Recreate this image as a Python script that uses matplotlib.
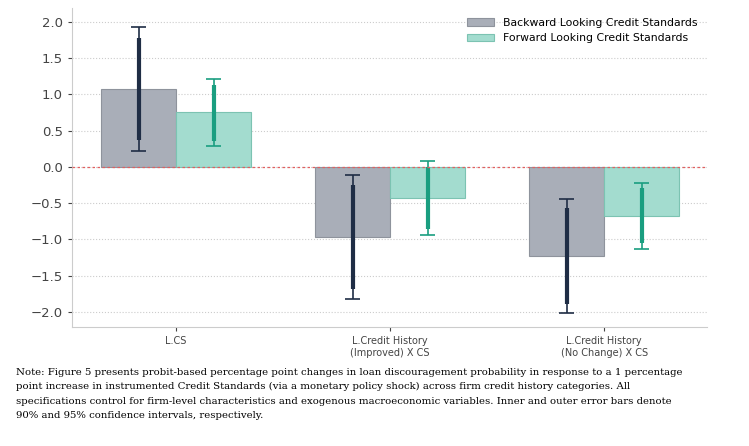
import numpy as np
import matplotlib.pyplot as plt

categories = ["L.CS", "L.Credit History\n(Improved) X CS", "L.Credit History\n(No Change) X CS"]
backward = [1.07, -0.97, -1.23]
forward = [0.75, -0.43, -0.68]
back_ci95 = [(0.22, 1.93), (-1.82, -0.11), (-2.02, -0.45)]
back_ci90 = [(0.37, 1.78), (-1.68, -0.25), (-1.89, -0.57)]
fwd_ci95 = [(0.29, 1.21), (-0.94, 0.08), (-1.13, -0.22)]
fwd_ci90 = [(0.36, 1.13), (-0.86, 0.0), (-1.05, -0.29)]

note = ("Note: Figure 5 presents probit-based percentage point changes in loan discouragement probability in response to a 1 percentage\n"
        "point increase in instrumented Credit Standards (via a monetary policy shock) across firm credit history categories. All\n"
        "specifications control for firm-level characteristics and exogenous macroeconomic variables. Inner and outer error bars denote\n"
        "90% and 95% confidence intervals, respectively.")


def main():
    fig = plt.figure(figsize=(7.49, 4.46), dpi=100)
    ax = fig.add_axes([72 / 749, 1 - 327 / 446, 635 / 749, 319 / 446])
    x = np.arange(len(categories))
    w = 0.35
    xb = x - w / 2
    xf = x + w / 2
    ax.bar(xb, backward, w, color="#a9aeb8", edgecolor="#8e939c", linewidth=0.8,
           label="Backward Looking Credit Standards", zorder=2)
    ax.bar(xf, forward, w, color="#a3dccf", edgecolor="#7cc3b2", linewidth=0.8,
           label="Forward Looking Credit Standards", zorder=2)

    for xs, c95, c90, col in [(xb, back_ci95, back_ci90, "#1f2d45"), (xf, fwd_ci95, fwd_ci90, "#1a9e80")]:
        for xi, (lo, hi), (lo9, hi9) in zip(xs, c95, c90):
            ax.vlines(xi, lo, hi, color=col, linewidth=1.2, zorder=3)
            ax.hlines([lo, hi], xi - 0.035, xi + 0.035, color=col, linewidth=1.2, zorder=3)
            ax.vlines(xi, lo9, hi9, color=col, linewidth=3, zorder=4)

    ax.axhline(0, color="#e06060", linestyle=(0, (2, 2)), linewidth=0.9, zorder=5)
    ax.set_xlim(-0.486, 2.48)
    ax.set_ylim(-2.21, 2.19)
    ticks = np.arange(-2.0, 2.01, 0.5)
    ax.set_yticks(ticks)
    ax.set_yticklabels([f"{v:.1f}".replace("-", "\u2212") for v in ticks], fontsize=9.5)
    ax.set_xticks(x)
    ax.set_xticklabels(categories, fontsize=7)
    ax.grid(axis="y", linestyle=":", color="#cccccc", linewidth=0.8, zorder=0)
    for s in ["top", "right"]:
        ax.spines[s].set_visible(False)
    for s in ["left", "bottom"]:
        ax.spines[s].set_color("#cccccc")
    ax.tick_params(colors="#444444", length=3)
    ax.legend(loc="upper right", fontsize=7.8, frameon=False, handlelength=2.5)

    fig.text(16 / 749, 1 - 368 / 446, note, fontsize=7.3, family="DejaVu Serif",
             va="top", ha="left", linespacing=1.75)
    fig.savefig("out.png", dpi=100)


if __name__ == "__main__":
    main()
